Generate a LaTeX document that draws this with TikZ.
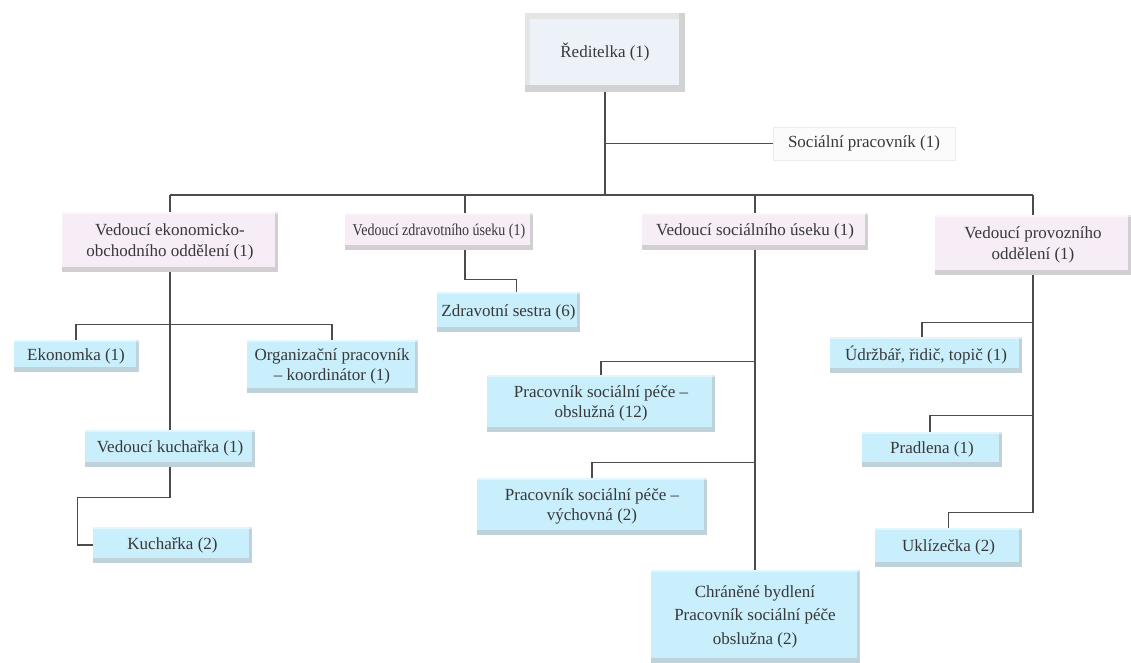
\documentclass[tikz,border=0pt]{standalone}
\usepackage{fontspec}
\setmainfont{Liberation Serif}
\newfontfamily\tnr{Liberation Serif}
\newfontfamily\tnrc{Liberation Serif}[FakeStretch=0.85]
\definecolor{dirfill}{RGB}{236,242,248}
\begin{document}
\begin{tikzpicture}[x=1pt,y=-1pt,
  txt/.style={text=black!78, font=\tnr\fontsize{17}{20.5}\selectfont, align=center, inner sep=0pt},
  bev/.style 2 args={fill=#1, path picture={
      \fill[#2] (path picture bounding box.south west) rectangle ([yshift=5pt]path picture bounding box.south east);
      \fill[#2] ([xshift=-3pt]path picture bounding box.south east) rectangle (path picture bounding box.north east);
      \fill[white,opacity=0.5] (path picture bounding box.north west) rectangle ([yshift=-2pt]path picture bounding box.north east);
  }},
  cbox/.style={txt, bev={cyan!21!white}{cyan!30!gray!45}},
  lbox/.style={txt, bev={violet!7!white}{violet!8!gray!35}},
  dirbox/.style={txt, fill=dirfill, path picture={
      \fill[gray!20] (path picture bounding box.north west) rectangle ([yshift=-6pt]path picture bounding box.north east);
      \fill[gray!20] (path picture bounding box.north west) rectangle ([xshift=5pt]path picture bounding box.south west);
      \fill[gray!35] (path picture bounding box.south west) rectangle ([yshift=7pt]path picture bounding box.south east);
      \fill[gray!35] ([xshift=-6pt]path picture bounding box.south east) rectangle (path picture bounding box.north east);
  }},
  socbox/.style={txt, fill=gray!3, draw=gray!15},
  link/.style={draw=black!70, line width=1.1pt}
]
\useasboundingbox (0,0) rectangle (1131,663);

% top
\node[dirbox, minimum width=160, minimum height=79] (dir) at (605,52.5) {Ředitelka (1)};
\node[socbox, minimum width=182, minimum height=33] (soc) at (864,143.5) {Sociální pracovník (1)};

% level 2
\node[lbox, minimum width=216, minimum height=60] (ekob) at (170,242) {Vedoucí ekonomicko-\\obchodního oddělení (1)};
\node[lbox, minimum width=188, minimum height=37, font=\tnrc\fontsize{16.5}{18}\selectfont] (zdr) at (439,231.5) {Vedoucí zdravotního úseku (1)};
\node[lbox, minimum width=226, minimum height=37] (socu) at (755,231.5) {Vedoucí sociálního úseku (1)};
\node[lbox, minimum width=196, minimum height=60] (prov) at (1033,245) {Vedoucí provozního\\oddělení (1)};

% economic
\node[cbox, minimum width=125, minimum height=32] (ekon) at (76,356) {Ekonomka (1)};
\node[cbox, minimum width=171, minimum height=53] (org) at (332,366.5) {Organizační pracovník\\– koordinátor (1)};
\node[cbox, minimum width=170, minimum height=37] (vkuch) at (170,448.5) {Vedoucí kuchařka (1)};
\node[cbox, minimum width=159, minimum height=36] (kuch) at (172.5,545) {Kuchařka (2)};

% health
\node[cbox, minimum width=143, minimum height=40] (zses) at (508.5,312) {Zdravotní sestra (6)};

% social
\node[cbox, minimum width=228, minimum height=57] (pso) at (601,403.5) {Pracovník sociální péče –\\obslužná (12)};
\node[cbox, minimum width=230, minimum height=57] (psv) at (592,506.5) {Pracovník sociální péče –\\výchovná (2)};
\node[cbox, minimum width=209, minimum height=93, font=\tnr\fontsize{17}{23.5}\selectfont] (chr) at (755,616.5) {Chráněné bydlení\\Pracovník sociální péče\\obslužna (2)};

% operations
\node[cbox, minimum width=192, minimum height=36] (udr) at (926,355) {Údržbář, řidič, topič (1)};
\node[cbox, minimum width=140, minimum height=35] (pradl) at (932,449.5) {Pradlena (1)};
\node[cbox, minimum width=147, minimum height=39] (ukl) at (948.5,547.5) {Uklízečka (2)};

% bus
\coordinate (busL) at (170,195);
\coordinate (busR) at (prov.north |- busL);

\draw[link] (dir.south) -- (dir.south |- busL);
\draw[link] (dir.south |- soc.west) -- (soc.west);
\draw[link] (busL) -- (busR);
\draw[link] (busL) -- (ekob.north);
\draw[link] ([xshift=26pt]zdr.north) -- ([xshift=26pt]zdr.north |- busL);
\draw[link] (socu.north) -- (socu.north |- busL);
\draw[link] (busR) -- (prov.north);

% economic links
\draw[link] (ekob.south) -- (vkuch.north);
\draw[link] (ekon.north) -- ++(0,-15) -| (org.north);
\draw[link] (vkuch.south) -- ++(0,30) -| ([xshift=-15pt]kuch.west) -- (kuch.west);

% health links
\draw[link] ([xshift=26pt]zdr.south) -- ++(0,29) -| ([xshift=8pt]zses.north);

% social links
\draw[link] (socu.south) -- (chr.north);
\draw[link] (pso.north) -- ++(0,-13) -| (socu.south);
\draw[link] (psv.north) -- ++(0,-15) -| (socu.south);

% operations links
\draw[link] (prov.south) -- ++(0,238) coordinate (provEnd);
\draw[link] ([xshift=-4pt]udr.north) -- ++(0,-14) -| (prov.south);
\draw[link] ([xshift=-2pt]pradl.north) -- ++(0,-16) -| (prov.south);
\draw[link] (ukl.north) -- ++(0,-15) -| (prov.south);
\end{tikzpicture}
\end{document}
